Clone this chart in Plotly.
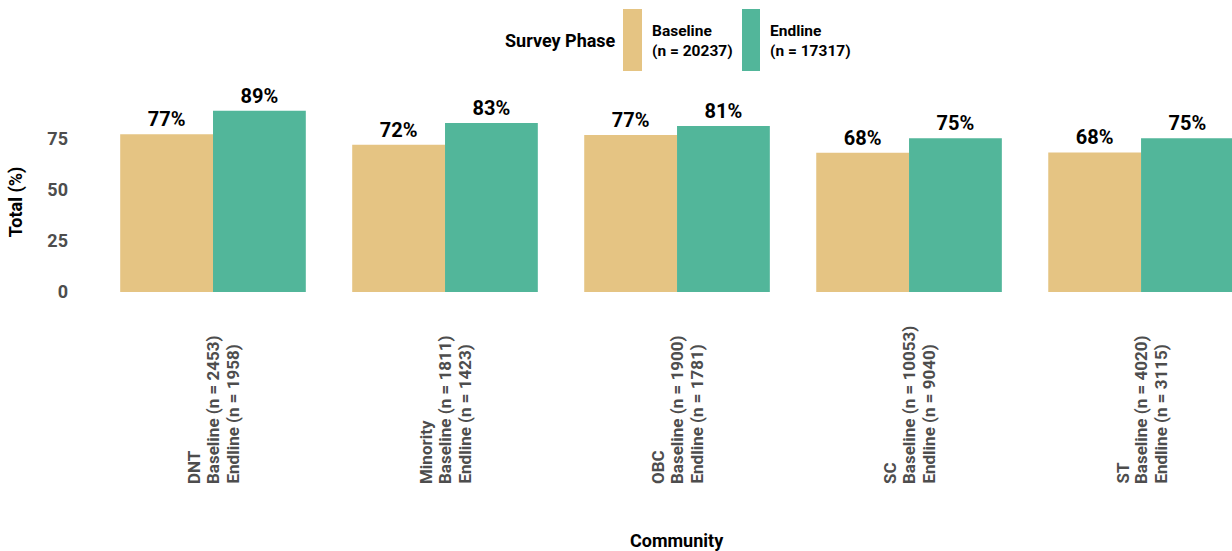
import plotly.graph_objects as go

communities = ["DNT", "Minority", "OBC", "SC", "ST"]
baseline_n = [2453, 1811, 1900, 10053, 4020]
endline_n = [1958, 1423, 1781, 9040, 3115]
baseline_pct = [77.3, 72.2, 77.0, 68.3, 68.4]
endline_pct = [88.9, 82.9, 81.4, 75.4, 75.4]
total_baseline_n = 20237
total_endline_n = 17317
y_ticks = [0, 25, 50, 75]

C_BASE = "#E5C483"
C_END = "#52B69A"
GRAY = "#4D4D4D"
FONT = "Roboto"

W, H = 1232, 551
L, R, T, B = 97, 0, 88, 235
PW, PH = W - L - R, H - T - B


def px_x(p):
    return (p - L) / PW


def px_y(p):
    return (H - B - p) / PH


fig = go.Figure()
fig.add_trace(go.Bar(
    x=communities, y=baseline_pct, name=f"Baseline (n = {total_baseline_n})",
    marker=dict(color=C_BASE, line=dict(width=0)),
    texttemplate="%{y:.0f}%", textposition="outside", cliponaxis=False,
    textfont=dict(family=FONT, size=20, color="black", weight="bold"),
    showlegend=False,
))
fig.add_trace(go.Bar(
    x=communities, y=endline_pct, name=f"Endline (n = {total_endline_n})",
    marker=dict(color=C_END, line=dict(width=0)),
    texttemplate="%{y:.0f}%", textposition="outside", cliponaxis=False,
    textfont=dict(family=FONT, size=20, color="black", weight="bold"),
    showlegend=False,
))

annotations = []
label_bottom = px_y(486)
for c, bn, en in zip(communities, baseline_n, endline_n):
    lines = [c, f"Baseline (n = {bn})", f"Endline (n = {en})"]
    for i, t in enumerate(lines):
        annotations.append(dict(
            x=c, xref="x", y=label_bottom, yref="paper",
            text=t, textangle=-90, showarrow=False,
            xanchor="center", yanchor="bottom", xshift=(i - 1) * 19,
            font=dict(family=FONT, size=17, color=GRAY, weight="bold"),
        ))

# x-axis title (the original panel extends beyond the right edge of the image)
annotations.append(dict(
    x=px_x(677), y=px_y(540), xref="paper", yref="paper", text="Community",
    showarrow=False, xanchor="center", yanchor="middle",
    font=dict(family=FONT, size=18, color="black", weight="bold"),
))

# custom legend
annotations.append(dict(
    x=px_x(503), y=px_y(41), xref="paper", yref="paper", text="Survey Phase",
    showarrow=False, xanchor="left", yanchor="middle",
    font=dict(family=FONT, size=18, color="black", weight="bold"),
))
annotations.append(dict(
    x=px_x(650), y=px_y(41), xref="paper", yref="paper",
    text=f"Baseline<br>(n = {total_baseline_n})", align="left",
    showarrow=False, xanchor="left", yanchor="middle",
    font=dict(family=FONT, size=15.5, color="black", weight="bold"),
))
annotations.append(dict(
    x=px_x(768), y=px_y(41), xref="paper", yref="paper",
    text=f"Endline<br>(n = {total_endline_n})", align="left",
    showarrow=False, xanchor="left", yanchor="middle",
    font=dict(family=FONT, size=15.5, color="black", weight="bold"),
))
shapes = [
    dict(type="rect", xref="paper", yref="paper", x0=px_x(623), x1=px_x(642),
         y0=px_y(71), y1=px_y(9), fillcolor=C_BASE, line=dict(width=0)),
    dict(type="rect", xref="paper", yref="paper", x0=px_x(742), x1=px_x(760),
         y0=px_y(71), y1=px_y(9), fillcolor=C_END, line=dict(width=0)),
]

fig.update_layout(
    width=W, height=H,
    margin=dict(l=L, r=R, t=T, b=B, autoexpand=False),
    paper_bgcolor="white", plot_bgcolor="white",
    barmode="group", bargap=0.2, bargroupgap=0,
    font=dict(family=FONT, color="black"),
    annotations=annotations, shapes=shapes,
    xaxis=dict(
        range=[-0.5, 4.392], showticklabels=False, showgrid=False,
        zeroline=False, showline=False, ticks="",
    ),
    yaxis=dict(
        range=[-11.76, 100], tickvals=y_ticks, showgrid=False, zeroline=False,
        showline=False, ticks="", ticklabelstandoff=28,
        tickfont=dict(family=FONT, size=18, color=GRAY, weight="bold"),
        title=dict(text="Total (%)", standoff=20,
                   font=dict(family=FONT, size=18, color="black", weight="bold")),
    ),
)

fig.write_html("out.html")
